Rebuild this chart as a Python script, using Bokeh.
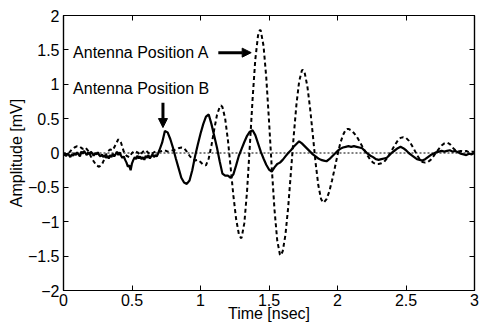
from bokeh.plotting import figure
from bokeh.models import Range1d, LinearAxis, FixedTicker, Label, Arrow, NormalHead, Span
from bokeh.embed import file_html
from bokeh.resources import INLINE

# ---------------- data ----------------
# Antenna Position A (dashed)
time_a = [0.00, 0.02, 0.04, 0.06, 0.08, 0.10, 0.12, 0.14, 0.16, 0.18,
          0.20, 0.22, 0.24, 0.26, 0.28, 0.30, 0.32, 0.34, 0.36, 0.38,
          0.40, 0.42, 0.44, 0.46, 0.48, 0.50, 0.52, 0.54, 0.56, 0.58,
          0.60, 0.62, 0.64, 0.66, 0.68, 0.70, 0.72, 0.74, 0.76, 0.78,
          0.80, 0.82, 0.84, 0.86, 0.88, 0.90, 0.92, 0.94, 0.96, 0.98,
          1.00, 1.02, 1.04, 1.06, 1.08, 1.10, 1.12, 1.14, 1.15, 1.16,
          1.18, 1.20, 1.22, 1.24, 1.26, 1.28, 1.296, 1.30, 1.32, 1.34,
          1.36, 1.38, 1.40, 1.42, 1.434, 1.44, 1.46, 1.48, 1.50, 1.52,
          1.54, 1.56, 1.58, 1.585, 1.60, 1.62, 1.64, 1.66, 1.68, 1.70,
          1.72, 1.74, 1.746, 1.76, 1.78, 1.80, 1.82, 1.84, 1.86, 1.88,
          1.895, 1.90, 1.92, 1.94, 1.96, 1.98, 2.00, 2.02, 2.04, 2.06,
          2.072, 2.08, 2.10, 2.12, 2.14, 2.16, 2.18, 2.20, 2.22, 2.24,
          2.26, 2.28, 2.30, 2.32, 2.34, 2.36, 2.38, 2.40, 2.42, 2.44,
          2.46, 2.48, 2.50, 2.52, 2.54, 2.56, 2.58, 2.60, 2.62, 2.64,
          2.66, 2.68, 2.70, 2.72, 2.74, 2.76, 2.78, 2.80, 2.82, 2.84,
          2.86, 2.88, 2.90, 2.92, 2.94, 2.96, 2.98, 3.00]
amp_a = [-0.02, -0.04, 0.00, 0.05, 0.08, 0.10, 0.09, 0.06, 0.08, 0.03,
         -0.05, -0.12, -0.18, -0.20, -0.17, -0.08, 0.02, 0.05, 0.04, 0.12,
         0.20, 0.15, 0.02, -0.04, -0.06, 0.00, 0.03, 0.01, -0.03, 0.02,
         0.04, 0.00, -0.02, 0.01, 0.03, 0.02, 0.03, 0.04, 0.02, 0.03,
         0.04, 0.05, 0.07, 0.08, 0.07, 0.02, -0.04, -0.09, -0.11, -0.10,
         -0.13, -0.17, -0.18, -0.08, 0.11, 0.34, 0.55, 0.67, 0.69, 0.67,
         0.50, 0.19, -0.21, -0.62, -0.96, -1.18, -1.24, -1.23, -1.02, -0.55,
         0.10, 0.78, 1.36, 1.71, 1.79, 1.78, 1.56, 1.10, 0.47, -0.21,
         -0.82, -1.27, -1.48, -1.49, -1.43, -1.19, -0.79, -0.28, 0.24, 0.70,
         1.04, 1.20, 1.21, 1.17, 0.97, 0.65, 0.26, -0.14, -0.47, -0.67,
         -0.72, -0.72, -0.67, -0.56, -0.40, -0.22, -0.03, 0.14, 0.26, 0.34,
         0.35, 0.35, 0.33, 0.29, 0.24, 0.17, 0.10, 0.03, -0.04, -0.10,
         -0.14, -0.16, -0.16, -0.15, -0.13, -0.08, -0.02, 0.05, 0.12, 0.18,
         0.22, 0.23, 0.22, 0.18, 0.12, 0.05, -0.03, -0.09, -0.13, -0.14,
         -0.13, -0.10, -0.05, 0.01, 0.06, 0.11, 0.14, 0.15, 0.13, 0.08,
         0.04, 0.02, 0.03, 0.02, 0.03, 0.01, 0.02, 0.02]

# Antenna Position B (solid)
time_b = [0.00, 0.01, 0.02, 0.03, 0.04, 0.05, 0.06, 0.07, 0.08, 0.09,
          0.10, 0.11, 0.12, 0.13, 0.14, 0.15, 0.16, 0.17, 0.18, 0.19,
          0.20, 0.21, 0.22, 0.23, 0.24, 0.25, 0.26, 0.27, 0.28, 0.29,
          0.30, 0.31, 0.32, 0.33, 0.34, 0.35, 0.36, 0.37, 0.38, 0.39,
          0.40, 0.41, 0.42, 0.43, 0.44, 0.45, 0.46, 0.47, 0.48, 0.49,
          0.50, 0.51, 0.52, 0.53, 0.54, 0.55, 0.56, 0.57, 0.58, 0.59,
          0.60, 0.61, 0.62, 0.63, 0.64, 0.65, 0.66, 0.67, 0.68, 0.69,
          0.70, 0.72, 0.74, 0.76, 0.78, 0.80, 0.82, 0.84, 0.86, 0.88,
          0.90, 0.92, 0.94, 0.96, 0.98, 1.00, 1.02, 1.04, 1.06, 1.08,
          1.10, 1.12, 1.14, 1.16, 1.18, 1.20, 1.22, 1.24, 1.26, 1.28,
          1.30, 1.32, 1.34, 1.36, 1.38, 1.40, 1.42, 1.44, 1.46, 1.48,
          1.50, 1.52, 1.54, 1.56, 1.58, 1.60, 1.62, 1.64, 1.66, 1.68,
          1.70, 1.72, 1.74, 1.76, 1.78, 1.80, 1.82, 1.84, 1.86, 1.88,
          1.90, 1.92, 1.94, 1.96, 1.98, 2.00, 2.02, 2.04, 2.06, 2.08,
          2.10, 2.12, 2.14, 2.16, 2.18, 2.20, 2.22, 2.24, 2.26, 2.28,
          2.30, 2.32, 2.34, 2.36, 2.38, 2.40, 2.42, 2.44, 2.46, 2.48,
          2.50, 2.52, 2.54, 2.56, 2.58, 2.60, 2.62, 2.64, 2.66, 2.68,
          2.70, 2.72, 2.74, 2.76, 2.78, 2.80, 2.82, 2.84, 2.86, 2.88,
          2.90, 2.92, 2.94, 2.96, 2.98, 3.00]
amp_b = [-0.03, 0.00, -0.04, -0.01, -0.03, -0.06, -0.02, -0.04, 0.00, -0.03,
         0.01, -0.02, -0.05, 0.02, -0.01, 0.03, 0.00, -0.03, 0.01, -0.02,
         0.02, -0.01, -0.04, 0.00, -0.02, 0.01, -0.03, -0.05, -0.02, -0.06,
         -0.03, -0.07, -0.04, -0.08, -0.03, -0.06, -0.01, -0.05, -0.02, 0.02,
         -0.03, 0.01, -0.04, -0.07, -0.05, -0.10, -0.14, -0.20, -0.18, -0.25,
         -0.15, -0.10, -0.06, -0.09, -0.04, -0.08, -0.05, -0.09, -0.06, -0.10,
         -0.04, -0.07, -0.03, -0.08, -0.05, -0.02, -0.06, -0.03, -0.05, -0.01,
         0.04, 0.15, 0.32, 0.30, 0.20, 0.07, -0.08, -0.22, -0.36, -0.43,
         -0.45, -0.40, -0.25, -0.05, 0.12, 0.28, 0.42, 0.53, 0.56, 0.42,
         0.25, 0.08, -0.12, -0.30, -0.33, -0.33, -0.36, -0.31, -0.18, -0.04,
         0.06, 0.16, 0.25, 0.31, 0.33, 0.26, 0.14, 0.02, -0.08, -0.17,
         -0.24, -0.27, -0.21, -0.16, -0.14, -0.10, -0.05, 0.00, 0.04, 0.09,
         0.13, 0.17, 0.14, 0.10, 0.06, 0.02, -0.02, -0.05, -0.08, -0.10,
         -0.11, -0.12, -0.09, -0.05, -0.01, 0.03, 0.06, 0.08, 0.09, 0.10,
         0.09, 0.10, 0.09, 0.08, 0.07, 0.03, -0.01, -0.04, -0.06, -0.09,
         -0.10, -0.09, -0.08, -0.07, -0.03, 0.01, 0.04, 0.07, 0.09, 0.07,
         0.04, 0.00, -0.03, -0.06, -0.09, -0.10, -0.11, -0.09, -0.06, -0.03,
         -0.01, 0.01, 0.02, 0.03, 0.02, 0.03, 0.04, 0.02, 0.03, 0.01,
         -0.01, -0.02, -0.03, -0.01, -0.02, 0.00]

x_ticks = [0, 0.5, 1, 1.5, 2, 2.5, 3]
y_ticks = [-2, -1.5, -1, -0.5, 0, 0.5, 1, 1.5, 2]
x_label = "Time [nsec]"
y_label = "Amplitude [mV]"
label_a = "Antenna Position A"
label_b = "Antenna Position B"

# annotation anchors (data units)
label_a_pos = (0.07, 1.46)
label_b_pos = (0.07, 0.94)
arrow_a = (1.13, 1.46, 1.37, 1.46)
arrow_b = (0.726, 0.73, 0.726, 0.37)

FONT = "Liberation Sans"

p = figure(width=488, height=325, output_backend="svg", toolbar_location=None,
           x_range=Range1d(0, 3), y_range=Range1d(-2, 2),
           min_border_left=63, min_border_right=14, min_border_top=15,
           min_border_bottom=35, background_fill_color="white",
           border_fill_color="white")
p.xgrid.visible = False
p.ygrid.visible = False
p.outline_line_color = "black"
p.outline_line_width = 1.2

def style_axis(ax, ticks, show_labels=True):
    ax.ticker = FixedTicker(ticks=ticks)
    ax.major_tick_in = 5
    ax.major_tick_out = 0
    ax.minor_tick_in = 0
    ax.minor_tick_out = 0
    ax.axis_line_color = "black"
    ax.axis_line_width = 1.2
    ax.major_tick_line_color = "black"
    ax.major_tick_line_width = 1
    ax.major_label_text_font = FONT
    ax.major_label_text_color = "black"
    if show_labels:
        ax.major_label_text_font_size = "16px"
    else:
        ax.major_label_text_font_size = "0px"
        ax.major_label_standoff = 0

style_axis(p.xaxis[0], x_ticks)
style_axis(p.yaxis[0], y_ticks)
p.xaxis[0].major_label_standoff = 3
p.yaxis[0].major_label_standoff = 4
p.xaxis[0].axis_label = x_label
p.yaxis[0].axis_label = y_label
for ax in (p.xaxis[0], p.yaxis[0]):
    ax.axis_label_text_font = FONT
    ax.axis_label_text_font_size = "16px"
    ax.axis_label_text_font_style = "normal"
    ax.axis_label_text_color = "black"
p.xaxis[0].axis_label_standoff = -4
p.yaxis[0].axis_label_standoff = 0

top_ax = LinearAxis()
style_axis(top_ax, x_ticks, show_labels=False)
p.add_layout(top_ax, "above")
right_ax = LinearAxis()
style_axis(right_ax, y_ticks, show_labels=False)
p.add_layout(right_ax, "right")

p.add_layout(Span(location=0, dimension="width", line_color="black",
                  line_width=1, line_dash="2 2"))

p.line(time_a, amp_a, line_color="black", line_width=2, line_dash="4 3")
p.line(time_b, amp_b, line_color="black", line_width=2.2)

for txt, pos in ((label_a, label_a_pos), (label_b, label_b_pos)):
    p.add_layout(Label(x=pos[0], y=pos[1], text=txt, text_font=FONT,
                       text_font_size="16px", text_baseline="middle",
                       text_align="left", text_color="black"))

for a in (arrow_a, arrow_b):
    p.add_layout(Arrow(end=NormalHead(size=9, fill_color="black",
                                      line_color="black"),
                       x_start=a[0], y_start=a[1], x_end=a[2], y_end=a[3],
                       line_color="black", line_width=3))

open("out.html", "w").write(file_html(p, INLINE))
